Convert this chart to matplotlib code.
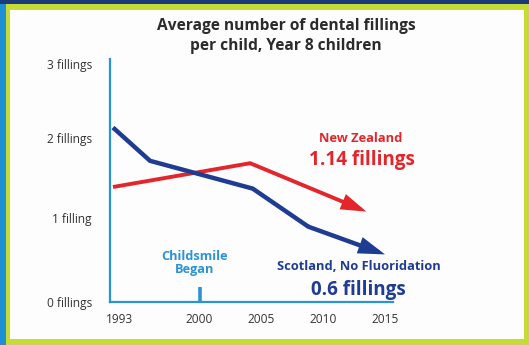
import matplotlib
matplotlib.use("Agg")
import matplotlib.pyplot as plt
from matplotlib.patches import Rectangle
import matplotlib.transforms as mtransforms

# Average fillings per Year 8 child
years_sco = [1993, 1996, 2004.3, 2008.8, 2015]
fill_sco = [2.2, 1.78, 1.43, 0.95, 0.6]
years_nz = [1993, 2004.1, 2013.5]
fill_nz = [1.45, 1.75, 1.14]

x_ticks = [1993, 2000, 2005, 2010, 2015]
y_ticks = [0, 1, 2, 3]
y_labels = ["0 fillings", "1 filling", "2 fillings", "3 fillings"]
childsmile_year = 2000

NAVY = "#1f3c93"
RED = "#e2262b"
LIGHT = "#2b93d3"
FRAME = "#c6dc34"
FONT = "Open Sans"

W, H = 529, 345
fig = plt.figure(figsize=(W / 100, H / 100), dpi=100)
fig.patch.set_facecolor(FRAME)


def frect(x0, y0, x1, y1, color):
    fig.patches.append(Rectangle((x0 / W, 1 - y1 / H), (x1 - x0) / W, (y1 - y0) / H,
                                 transform=fig.transFigure, facecolor=color,
                                 edgecolor="none", zorder=-10))


def ftext(x, y, s, **kw):
    fig.text(x / W, 1 - y / H, s, family=FONT, **kw)


# page frame
frect(0, 0, W, 4, "#1b3a7c")
frect(0, 4, 6, H, "#1f8fd4")
frect(10, 10, 524, 339, "#fdfdfd")

ax = fig.add_axes([110 / W, (H - 302) / H, (393 - 110) / W, (302 - 59) / H])
ax.set_zorder(5)
ax.set_facecolor("none")
ax.set_xlim(1992.76, 2015.65)
ax.set_ylim(0, 3.064)
for side in ("top", "right"):
    ax.spines[side].set_visible(False)
for side in ("left", "bottom"):
    ax.spines[side].set_color(LIGHT)
    ax.spines[side].set_linewidth(1.6)

ax.set_xticks(x_ticks)
ax.set_xticklabels([str(y) for y in x_ticks], family=FONT, fontsize=8.6, color="#333333")
ax.set_yticks(y_ticks)
ax.set_yticklabels(y_labels, family=FONT, fontsize=8.6, color="#333333")
ax.tick_params(axis="both", length=0)
ax.tick_params(axis="y", pad=13)
ax.tick_params(axis="x", pad=8)
# first year label sits a little to the right; middle labels slightly raised
first = ax.get_xticklabels()[0]
first.set_transform(first.get_transform() +
                    mtransforms.ScaledTranslation(7 / 100, 0, fig.dpi_scale_trans))
for lab in ax.get_yticklabels()[1:3]:
    lab.set_transform(lab.get_transform() +
                      mtransforms.ScaledTranslation(0, 5 / 100, fig.dpi_scale_trans))

# Childsmile marker
ax.plot([childsmile_year, childsmile_year], [0, 0.19], color=LIGHT, lw=2.6,
        solid_capstyle="butt", clip_on=False)
ax.text(childsmile_year - 0.4, 0.49, "Childsmile\nBegan", ha="center", va="center",
        family=FONT, fontweight="bold", fontsize=9.2, color=LIGHT, linespacing=1.0)

# series lines with arrowheads on the final segment
for xs, ys, col, lw in ((years_nz, fill_nz, RED, 2.8), (years_sco, fill_sco, NAVY, 3.2)):
    ax.plot(xs[:-1], ys[:-1], color=col, lw=lw, solid_joinstyle="miter",
            solid_capstyle="butt", clip_on=False)
    ax.annotate("", xy=(xs[-1], ys[-1]), xytext=(xs[-2], ys[-2]),
                arrowprops=dict(arrowstyle="-|>,head_length=1.25,head_width=0.4",
                                color=col, lw=lw, shrinkA=0, shrinkB=0,
                                joinstyle="miter"))

ftext(286, 36, "Average number of dental fillings\nper child, Year 8 children",
      ha="center", va="center", fontweight="bold", fontsize=11.2, color="#2b2b2b",
      linespacing=1.35)
ftext(361, 138, "New Zealand", ha="center", va="center", fontweight="bold",
      fontsize=9.3, color=RED)
ftext(362, 160, "1.14 fillings", ha="center", va="center", fontweight="bold",
      fontsize=13.6, color=RED)
ftext(359, 266, "Scotland, No Fluoridation", ha="center", va="center",
      fontweight="bold", fontsize=9.3, color=NAVY)
ftext(358, 290, "0.6 fillings", ha="center", va="center", fontweight="bold",
      fontsize=13.6, color=NAVY)

fig.savefig("out.png", dpi=100, facecolor=fig.get_facecolor())
